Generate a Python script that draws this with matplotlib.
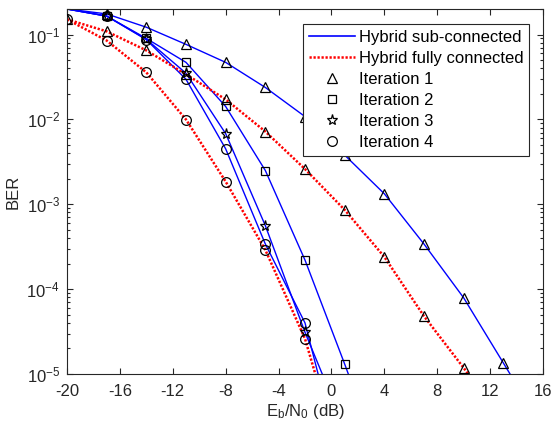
import matplotlib
matplotlib.use('Agg')
import matplotlib.pyplot as plt
from matplotlib.lines import Line2D

plt.rcParams['font.family'] = ['Liberation Sans', 'DejaVu Sans']
plt.rcParams['mathtext.default'] = 'regular'
plt.rcParams['axes.unicode_minus'] = False

# Eb/N0 grid (dB)
snr = [-20, -17, -14, -11, -8, -5, -2, 1, 4, 7, 10, 13, 16]

# hybrid sub-connected (blue, solid)
sub_it1 = [0.2, 0.175, 0.122, 0.0766, 0.047, 0.0238, 0.0108, 0.0038, 0.00133, 3.4e-4, 7.9e-5, 1.35e-5, 2.3e-6]
sub_it2 = [0.2, 0.165, 0.09, 0.047, 0.0142, 0.0025, 2.2e-4, 1.31e-5, 7e-7]
sub_it3 = [0.2, 0.165, 0.088, 0.035, 0.0068, 5.6e-4, 3.1e-5, 2.3e-6]
sub_it4 = [0.2, 0.165, 0.087, 0.0297, 0.0045, 3.4e-4, 4e-5, 6e-7]

# hybrid fully connected (red, dotted)
full_it1 = [0.151, 0.109, 0.065, 0.034, 0.0172, 0.0072, 0.0026, 8.6e-4, 2.4e-4, 4.8e-5, 1.18e-5, 2.8e-6]
full_it4 = [0.151, 0.085, 0.0358, 0.00997, 0.00185, 2.9e-4, 2.6e-5, 6.6e-7]

legend_labels = ['Hybrid sub-connected', 'Hybrid fully connected',
                 'Iteration 1', 'Iteration 2', 'Iteration 3', 'Iteration 4']

markers = {1: ('^', 7.5), 2: ('s', 5.5), 3: ('*', 8), 4: ('o', 7)}
dark = (0.15, 0.15, 0.15)

fig = plt.figure(figsize=(5.52, 4.23), dpi=100)
ax = fig.add_axes([67 / 552, 1 - 374 / 423, 476 / 552, 365 / 423])

red_ls = (0, (0.9, 0.7))

def curve(vals, it, color, ls, lw, start=0):
    m, ms = markers[it]
    x = snr[:len(vals)]
    ax.plot(x, vals, color=color, ls=ls, lw=lw, zorder=2)
    ax.plot(x[start:], vals[start:], ls='none', marker=m, ms=ms, mec='k',
            mfc='none', mew=0.9, zorder=3)

curve(sub_it1, 1, 'b', '-', 1.0, start=1)
curve(sub_it2, 2, 'b', '-', 1.0, start=1)
curve(sub_it3, 3, 'b', '-', 1.0, start=1)
curve(sub_it4, 4, 'b', '-', 1.0, start=1)
curve(full_it1, 1, 'r', red_ls, 1.8)
curve(full_it4, 4, 'r', red_ls, 1.8)

ax.set_yscale('log')
ax.set_xlim(-20, 16)
ax.set_ylim(1e-5, 0.2)
ax.set_xticks(range(-20, 17, 4))

for s in ax.spines.values():
    s.set_color(dark)
    s.set_linewidth(0.8)
ax.tick_params(which='both', direction='in', top=True, right=True,
               colors=dark, labelsize=12, width=0.8)
ax.tick_params(which='major', length=4)
ax.tick_params(which='minor', length=2.2)
ax.tick_params(axis='x', pad=7)
ax.tick_params(axis='y', pad=5)

ax.set_xlabel(r'E$_b$/N$_0$ (dB)', fontsize=12, color=dark, labelpad=2)
ax.set_ylabel('BER', fontsize=12, color=dark, labelpad=4)

handles = [
    Line2D([], [], color='b', lw=1.2),
    Line2D([], [], color='r', ls=red_ls, lw=1.8),
]
for it in range(1, 5):
    m, ms = markers[it]
    handles.append(Line2D([], [], ls='none', marker=m, ms=ms, mec='k',
                          mfc='none', mew=0.9))

leg = ax.legend(handles, legend_labels, loc='upper right',
                bbox_to_anchor=(0.971, 0.959), borderaxespad=0,
                fontsize=12, fancybox=False, framealpha=1,
                handlelength=2.8, handletextpad=0.2, labelspacing=0.36,
                borderpad=0.35, handleheight=0.6)
leg.get_frame().set_edgecolor(dark)
leg.get_frame().set_linewidth(0.8)

fig.savefig('out.png', dpi=100)
